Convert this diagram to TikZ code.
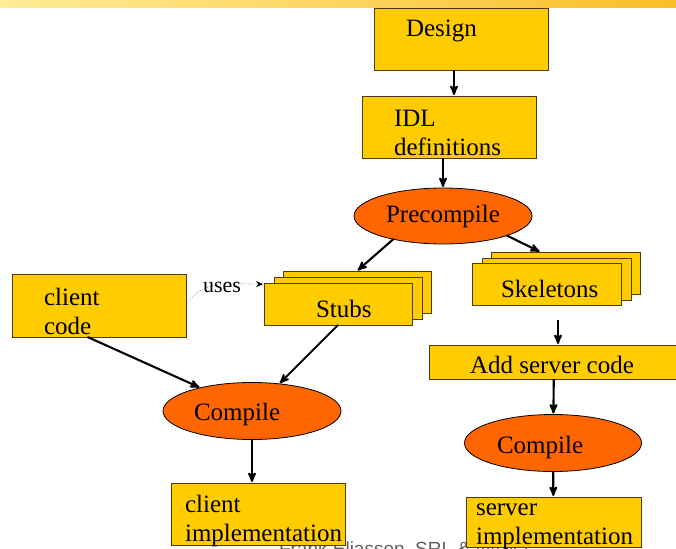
\documentclass[tikz,border=0pt]{standalone}
\usepackage{fontspec}
\setmainfont{Liberation Serif}
\setsansfont{Liberation Sans}
\usetikzlibrary{arrows,arrows.meta,shapes.geometric,positioning}

\definecolor{boxfill}{RGB}{255,204,0}
\definecolor{boxline}{RGB}{80,60,10}
\definecolor{ovalfill}{RGB}{255,102,0}
\definecolor{bandlight}{RGB}{255,236,150}
\definecolor{banddark}{RGB}{250,190,40}
\definecolor{footgray}{RGB}{95,95,95}

\begin{document}
\begin{tikzpicture}[->,>=stealth',shorten >=1pt,x=1pt,y=-1pt,
                    line width=2.1pt]
  \tikzstyle{box}=[rectangle,draw=boxline,line width=0.8pt,fill=boxfill,
                   anchor=north west,inner sep=0pt,outer sep=0pt]
  \tikzstyle{oval}=[ellipse,draw=black,line width=0.8pt,fill=ovalfill,
                    inner sep=0pt,outer sep=0pt]
  \tikzstyle{txt}=[font=\fontsize{25}{29}\selectfont,anchor=base west,
                   inner sep=0pt,align=left]

  \useasboundingbox (0,0) rectangle (676,548);
  \shade[-,left color=bandlight,right color=banddark] (0,0) rectangle (676,8);

  \node[font=\sffamily\fontsize{19}{19}\selectfont,text=footgray,
        anchor=base west,inner sep=0pt] (footer) at (278,555)
        {Frank Eliassen, SRL \& Ifi/UiO};

  \node[box,minimum width=174pt,minimum height=62pt] (design) at (374,8) {};
  \node[txt] (designtxt) at (405,37) {Design};
  \node[box,minimum width=174pt,minimum height=62pt] (idl) at (362,96) {};
  \node[txt] (idltxt) at (393,156) {IDL\\definitions};
  \node[oval,minimum width=178pt,minimum height=56pt,
        font=\fontsize{25}{29}\selectfont] (pre) at (443,216) {Precompile};

  \node[box,minimum width=148pt,minimum height=42pt] (stubsC) at (283,271) {};
  \node[box,minimum width=148pt,minimum height=42pt] (stubsB) at (274,277) {};
  \node[box,minimum width=148pt,minimum height=42pt] (stubs)  at (264,283) {};
  \node[txt] (stubstxt) at (315,317) {Stubs};

  \node[box,minimum width=149pt,minimum height=42pt] (skelC) at (491,252) {};
  \node[box,minimum width=149pt,minimum height=42pt] (skelB) at (482,258) {};
  \node[box,minimum width=149pt,minimum height=42pt] (skel)  at (472,263) {};
  \node[txt] (skeltxt) at (500,297) {Skeletons};

  \node[box,minimum width=174pt,minimum height=63pt] (client) at (12,274) {};
  \node[txt] (clienttxt) at (43,334) {client\\code};

  \node[oval,minimum width=178pt,minimum height=57pt] (cl) at (252,411) {};
  \node[txt] (cltxt) at (193,420) {Compile};
  \node[box,minimum width=174pt,minimum height=62pt] (cimpl) at (171,483) {};
  \node[txt] (cimpltxt) at (184,541) {client\\implementation};

  \node[box,minimum width=250pt,minimum height=34pt] (add) at (429,345) {};
  \node[txt] (addtxt) at (469,373) {Add server code};
  \node[oval,minimum width=177pt,minimum height=57pt] (cr) at (553,443) {};
  \node[txt] (crtxt) at (496,453) {Compile};
  \node[box,minimum width=175pt,minimum height=50pt] (simpl) at (466,497) {};
  \node[txt] (simpltxt) at (475,544) {server\\implementation};

  \coordinate (skelout) at (558,320);

  \path ([xshift=-7pt]design.south) edge ([xshift=-7pt]design.south |- idl.north)
        (idl.south -| pre)          edge (pre)
        (pre.205)                   edge (stubsC.north)
        (pre.343)                   edge (skelC.140)
        (skelout)                   edge (skelout |- add.north)
        (add)                       edge (cr)
        (cr)                        edge (simpl)
        (client.250)                edge (cl)
        (stubs.south)               edge (cl)
        (cl.south)                  edge (cimpl.north -| cl.south);

  \path (client.east) edge [dotted,line width=0.6pt,draw=black!70,
                            -{Stealth[length=7pt,width=6pt,black]},
                            out=60,in=180]
                           node [pos=0.45,above,inner sep=2pt,
                                 xshift=7pt,yshift=-10pt,
                                 font=\fontsize{22}{22}\selectfont] (uses) {uses}
                           (stubs.165);
\end{tikzpicture}
\end{document}
